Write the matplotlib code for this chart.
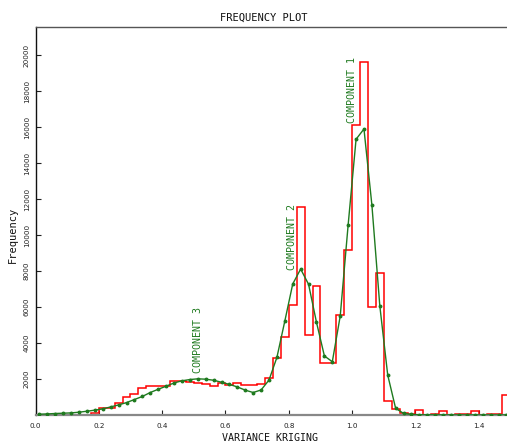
import numpy as np
import matplotlib
matplotlib.use("Agg")
import matplotlib.pyplot as plt

# ---- data ----
bin_width = 0.025
hist_counts = [0, 0, 0, 0, 0, 0, 0, 130, 370, 390,
               650, 980, 1170, 1480, 1610, 1610, 1610, 1870, 1870, 1850,
               1800, 1750, 1600, 1800, 1640, 1760, 1640, 1640, 1710, 2040,
               3150, 4340, 6110, 11540, 4440, 7170, 2870, 2870, 5550, 9170,
               16110, 19600, 6020, 7870, 800, 350, 130, 70, 300, 20,
               70, 240, 20, 70, 70, 240, 20, 40, 40, 1100]
fit_values = [44, 60, 83, 100, 117, 155, 210, 270, 340, 450,
              560, 690, 860, 1030, 1250, 1430, 1600, 1780, 1900, 1970,
              2010, 1990, 1930, 1820, 1700, 1560, 1380, 1250, 1390, 1940,
              3200, 5220, 7280, 8110, 7260, 5150, 3280, 2960, 5500, 10560,
              15320, 15890, 11670, 6070, 2220, 370, 90, 30, 15, 10,
              8, 6, 5, 4, 3, 2, 2, 1, 1, 1]
xticks = [0.0, 0.2, 0.4, 0.6, 0.8, 1.0, 1.2, 1.4]
yticks = [2000, 4000, 6000, 8000, 10000, 12000, 14000, 16000, 18000, 20000]
components = ["COMPONENT 1", "COMPONENT 2", "COMPONENT 3"]
comp_pos = [(1.0006, 16240), (0.809, 8056), (0.512, 2333)]

edges = np.arange(len(hist_counts) + 1) * bin_width
centers = edges[:-1] + bin_width / 2

W, H = 507, 444
fig = plt.figure(figsize=(W / 100, H / 100), dpi=100)
ax = fig.add_axes([35.5 / W, 29 / H, 1 - 35.5 / W, (415 - 27) / H])

ax.stairs(hist_counts, edges, color="#ff0000", lw=1.1, zorder=2)
ax.plot(centers, fit_values, color="#1f7a1f", lw=1.0, marker="o",
        markersize=1.8, zorder=3)

ax.set_xlim(0, (W - 35.5) / 316.6)
ax.set_ylim(0, 21556)
ax.set_xticks(xticks)
ax.set_xticklabels([f"{t:.1f}" for t in xticks])
ax.set_yticks(yticks)
ax.set_yticklabels([str(t) for t in yticks], rotation=90, va="center")
ax.tick_params(axis="both", direction="in", length=3.5, width=0.8,
               colors="#222222", labelsize=5.2)
ax.tick_params(axis="y", pad=4)
ax.tick_params(axis="x", pad=6)

for s in ["right"]:
    ax.spines[s].set_visible(False)
ax.spines["bottom"].set_color("#888888")
ax.spines["bottom"].set_linewidth(1.6)
ax.spines["left"].set_color("#111111")
ax.spines["left"].set_linewidth(1.0)
ax.spines["top"].set_color("#555555")
ax.spines["top"].set_linewidth(1.0)

for label, (cx, cy) in zip(components, comp_pos):
    ax.text(cx, cy, label, rotation=90, ha="center", va="bottom",
            color="#1f7a1f", fontsize=7.2, family="DejaVu Sans Mono")

fig.text(264 / W, 1 - 18 / H, "FREQUENCY PLOT", ha="center", va="center",
         fontsize=7.5, family="DejaVu Sans Mono", color="#111111")
fig.text(270 / W, 1 - 438 / H, "VARIANCE KRIGING", ha="center", va="center",
         fontsize=7.2, family="DejaVu Sans Mono", color="#111111")
fig.text(13 / W, 1 - 235 / H, "Frequency", ha="center", va="center",
         rotation=90, fontsize=7.5, family="DejaVu Sans Mono", color="#111111")

fig.savefig("out.png", dpi=100)
